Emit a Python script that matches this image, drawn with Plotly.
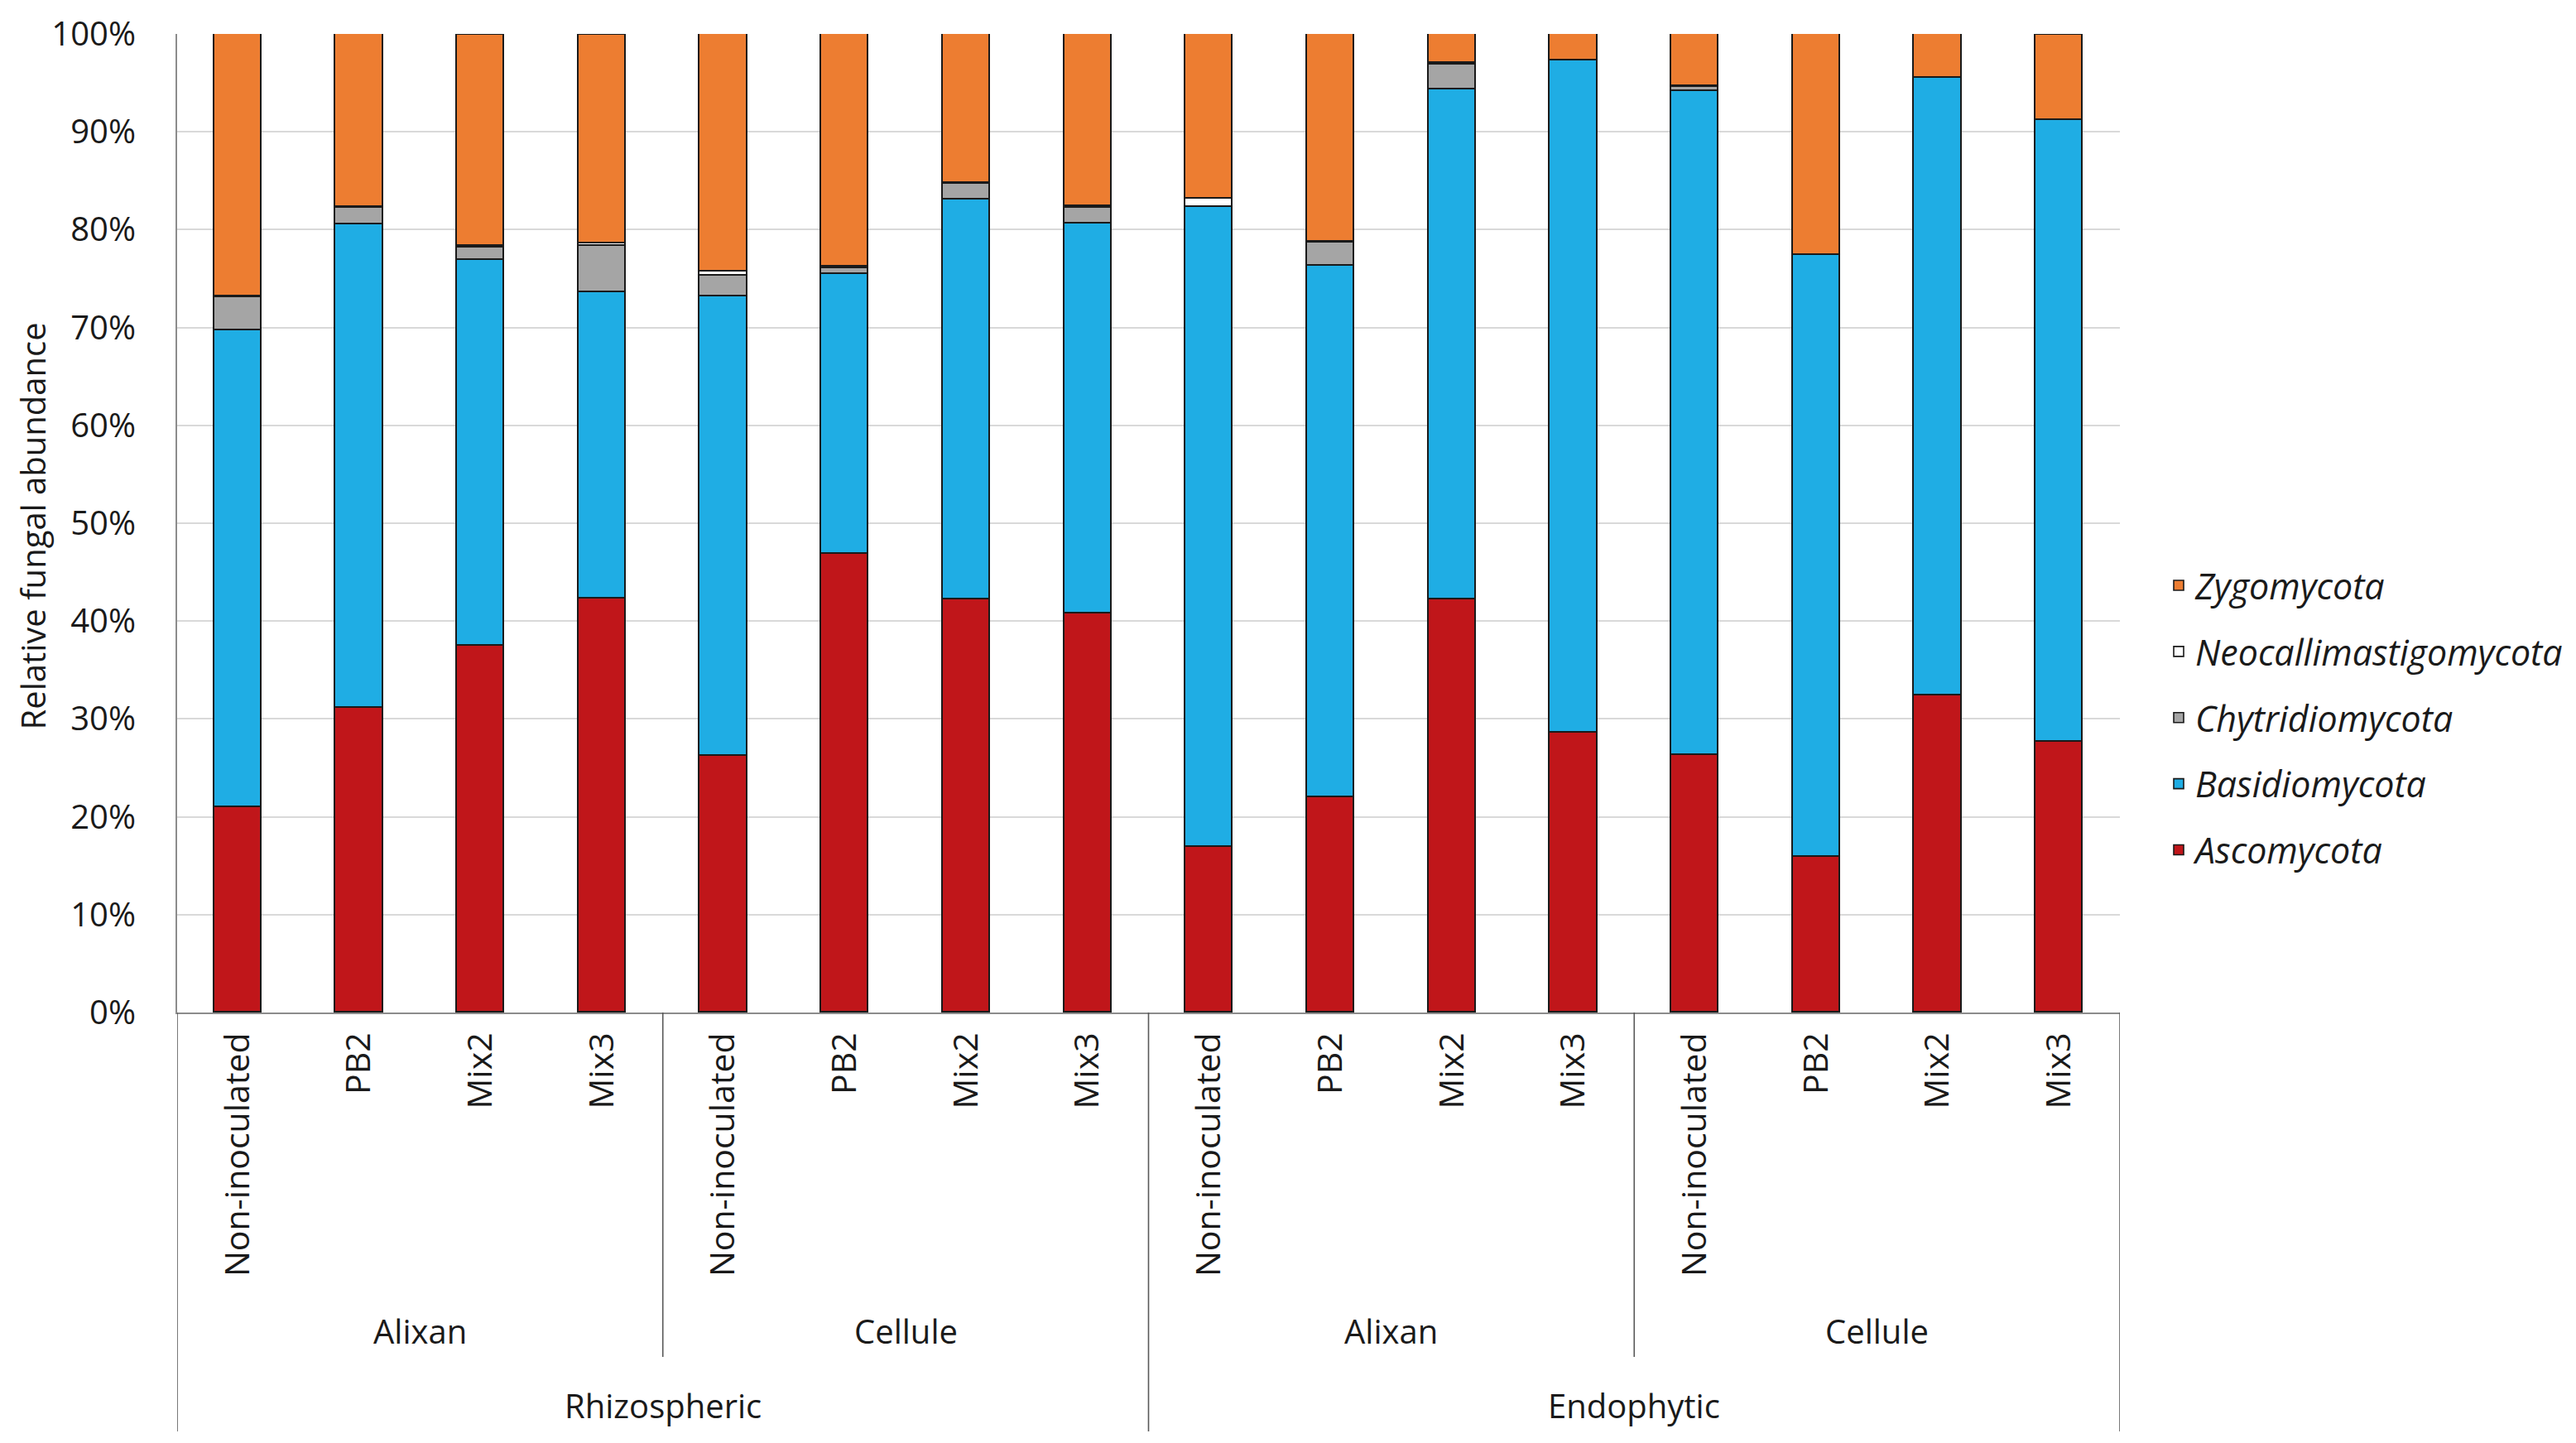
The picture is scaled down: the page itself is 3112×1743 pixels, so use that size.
import plotly.graph_objects as go

treatments = ["Non-inoculated", "PB2", "Mix2", "Mix3"] * 4
products = ["Alixan", "Cellule", "Alixan", "Cellule"]
compartments = ["Rhizospheric", "Endophytic"]
y_ticks = [0, 10, 20, 30, 40, 50, 60, 70, 80, 90, 100]
y_ticklabels = ["0%", "10%", "20%", "30%", "40%", "50%", "60%", "70%", "80%", "90%", "100%"]

ascomycota = [21.0, 31.1, 37.5, 42.3, 26.2, 46.9, 42.2, 40.8,
              16.9, 22.0, 42.2, 28.6, 26.3, 15.9, 32.4, 27.7]
basidiomycota = [48.7, 49.4, 39.4, 31.3, 47.0, 28.6, 40.9, 39.8,
                 65.4, 54.3, 52.1, 68.7, 67.9, 61.5, 63.1, 63.5]
chytridiomycota = [3.4, 1.7, 1.25, 4.7, 2.1, 0.6, 1.6, 1.6,
                   0.0, 2.4, 2.6, 0.0, 0.4, 0.0, 0.0, 0.0]
neocallimastigomycota = [0.05, 0.1, 0.15, 0.3, 0.4, 0.1, 0.1, 0.2,
                         0.9, 0.1, 0.1, 0.0, 0.1, 0.0, 0.0, 0.0]
zygomycota = [26.9, 17.8, 21.65, 21.35, 24.3, 23.8, 15.2, 17.6,
              16.8, 21.2, 3.0, 2.7, 5.3, 22.6, 4.5, 8.75]

series = [
    ("Ascomycota", ascomycota, "#C0161A"),
    ("Basidiomycota", basidiomycota, "#1FADE4"),
    ("Chytridiomycota", chytridiomycota, "#A5A5A5"),
    ("Neocallimastigomycota", neocallimastigomycota, "#FFFFFF"),
    ("Zygomycota", zygomycota, "#ED7D31"),
]

FONT = "Open Sans"
OFF = 8  # page body margin
W, H = 3112 - 2 * OFF, 1743 - 2 * OFF
PL, PR, PT, PB = 214, 2561, 41, 1223  # plot box in page pixels
ML, MR, MT, MB = PL - OFF, W - (PR - OFF), PT - OFF, H - (PB - OFF)
plot_h = PB - PT
plot_w = PR - PL
x_idx = list(range(len(treatments)))


def py(page_y):
    return (PB - page_y) / plot_h


def px(page_x):
    return (page_x - PL) / plot_w


fig = go.Figure()
n = len(series)
for i, (name, vals, col) in enumerate(series):
    fig.add_trace(go.Bar(
        x=x_idx, y=vals, name="<i>" + name + "</i>",
        marker=dict(color=col, line=dict(color="#1a1a1a", width=1.6)),
        width=0.39, legendgroup=name, legendrank=n - i,
    ))

TXT = "#1a1a1a"
annotations = []
for g, prod in enumerate(products):
    annotations.append(dict(x=g * 4 + 1.5, y=py(1607), xref="x", yref="paper",
                            text=prod, showarrow=False, yanchor="middle",
                            font=dict(family=FONT, size=40, color=TXT)))
for c, comp in enumerate(compartments):
    annotations.append(dict(x=c * 8 + 3.5, y=py(1697), xref="x", yref="paper",
                            text=comp, showarrow=False, yanchor="middle",
                            font=dict(family=FONT, size=40, color=TXT)))
annotations.append(dict(x=px(10), y=py(636), xref="paper", yref="paper",
                        text="Relative fungal abundance", textangle=-90, showarrow=False,
                        xanchor="left", yanchor="middle",
                        font=dict(family=FONT, size=40, color=TXT)))

shapes = []
for xv in [-0.5, 7.5, 15.5]:
    shapes.append(dict(type="line", xref="x", yref="paper", x0=xv, x1=xv,
                       y0=0, y1=py(1729), line=dict(color="#595959", width=1.6)))
for xv in [3.5, 11.5]:
    shapes.append(dict(type="line", xref="x", yref="paper", x0=xv, x1=xv,
                       y0=0, y1=py(1639), line=dict(color="#595959", width=1.6)))

fig.update_layout(
    width=W, height=H,
    barmode="stack",
    bargap=0.0,
    paper_bgcolor="white", plot_bgcolor="white",
    margin=dict(l=ML, r=MR, t=MT, b=MB, autoexpand=False),
    font=dict(family=FONT, size=40, color=TXT),
    xaxis=dict(
        range=[-0.5, 15.5], tickmode="array", tickvals=x_idx, ticktext=treatments,
        tickangle=-90, showgrid=False, zeroline=False,
        showline=True, linecolor="#8c8c8c", linewidth=2,
        ticks="outside", ticklen=6, tickcolor="rgba(0,0,0,0)",
        tickfont=dict(family=FONT, size=41, color=TXT),
    ),
    yaxis=dict(
        range=[0, 100], tickmode="array", tickvals=y_ticks, ticktext=y_ticklabels,
        showgrid=True, gridcolor="#D9D9D9", gridwidth=2,
        zeroline=False, showline=True, linecolor="#8c8c8c", linewidth=2,
        ticks="outside", ticklen=40, tickcolor="rgba(0,0,0,0)",
        tickfont=dict(family=FONT, size=40, color=TXT),
    ),
    legend=dict(
        x=px(2612), y=py(867), xanchor="left", yanchor="middle",
        traceorder="grouped", tracegroupgap=21,
        font=dict(family=FONT, size=43, color=TXT),
        itemwidth=30, bgcolor="rgba(0,0,0,0)",
    ),
    annotations=annotations,
    shapes=shapes,
)

fig.write_html("out.html")
